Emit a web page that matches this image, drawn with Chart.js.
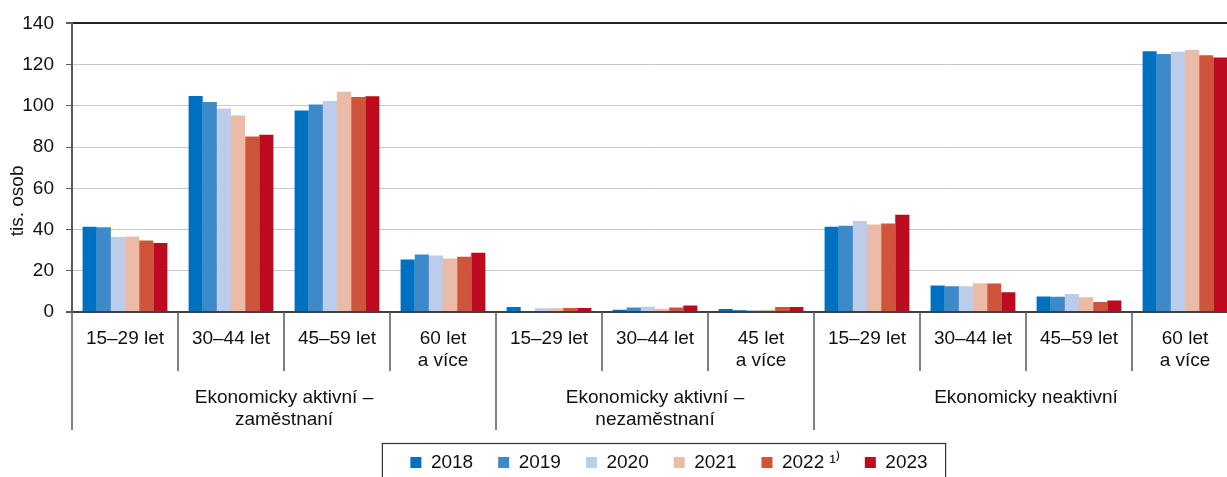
<!DOCTYPE html>
<html lang="cs">
<head>
  <meta charset="UTF-8">
  <title>Obyvatelstvo podle ekonomické aktivity</title>
  <script src="https://cdn.jsdelivr.net/npm/chart.js"></script>
  <style>
    html, body { margin: 0; padding: 0; background: #fff; overflow: hidden; }
    #wrap { width: 1238px; height: 482px; }
  </style>
</head>
<body>

<div id="wrap">
  <canvas id="graf" width="1238" height="482"></canvas>
</div>

<script>
// kategorie (vekove skupiny) a nadrazene skupiny
const kategorie = [
  ['15–29 let'], ['30–44 let'], ['45–59 let'], ['60 let', 'a více'],
  ['15–29 let'], ['30–44 let'], ['45 let', 'a více'],
  ['15–29 let'], ['30–44 let'], ['45–59 let'], ['60 let', 'a více']
];
const skupiny = [
  ['Ekonomicky aktivní –', 'zaměstnaní'],
  ['Ekonomicky aktivní –', 'nezaměstnaní'],
  ['Ekonomicky neaktivní']
];
const velikostSkupin = [4, 3, 4];

const roky = ['2018', '2019', '2020', '2021', '2022 ¹⁾', '2023'];
const barvy = ['#0070C0', '#3D89C9', '#BCCDEB', '#ECBBA8', '#CF553A', '#BE0A1E'];

// tis. osob
const h2018 = [41.4, 104.8,  97.8, 25.5, 2.4, 1.1, 1.4, 41.3, 12.8, 7.5, 126.5];
const h2019 = [41.1, 101.9, 100.6, 27.9, 0.5, 2.2, 1.0, 41.9, 12.5, 7.4, 125.2];
const h2020 = [36.4,  98.7, 102.4, 27.4, 1.8, 2.6, 1.0, 44.1, 12.5, 8.7, 126.2];
const h2021 = [36.6,  95.3, 106.9, 26.0, 1.8, 1.6, 1.1, 42.4, 14.0, 7.2, 127.1];
const h2022 = [34.7,  85.1, 104.3, 26.8, 1.9, 2.2, 2.4, 42.9, 13.8, 4.8, 124.6];
const h2023 = [33.5,  86.0, 104.7, 28.7, 1.9, 3.2, 2.4, 47.2,  9.6, 5.6, 123.4];
const hodnoty = [h2018, h2019, h2020, h2021, h2022, h2023];

const yTicky = [0, 20, 40, 60, 80, 100, 120, 140];
const yNazev = 'tis. osob';

Chart.defaults.font.family = '"Liberation Sans", Arial, sans-serif';
Chart.defaults.font.size = 19;
Chart.defaults.color = '#111';

// oddelovaci cary pod osou x, popisky skupin, nazev osy y, ramecek legendy
const doplnky = {
  id: 'doplnky',
  afterLayout(chart) {
    const l = chart.legend;
    const ca = chart.chartArea;
    const posun = (ca.left + ca.right) / 2 + 14 - (l.left + l.right) / 2;
    l.left += posun;
    l.right += posun;
  },
  afterDraw(chart) {
    const ctx = chart.ctx;
    const x = chart.scales.x;
    const n = kategorie.length;
    const sirka = (x.right - x.left) / n;
    const y0 = x.top;

    ctx.save();
    ctx.strokeStyle = '#595959';
    ctx.lineWidth = 1.5;
    const hranice = [0];
    velikostSkupin.reduce((s, v) => { hranice.push(s + v); return s + v; }, 0);
    for (let i = 0; i <= n; i++) {
      const bx = x.left + i * sirka;
      const delka = hranice.includes(i) ? 118 : 59;
      ctx.beginPath();
      ctx.moveTo(bx, y0);
      ctx.lineTo(bx, y0 + delka);
      ctx.stroke();
    }

    ctx.fillStyle = '#111';
    ctx.font = '19px "Liberation Sans", Arial, sans-serif';
    ctx.textAlign = 'center';
    ctx.textBaseline = 'middle';
    skupiny.forEach((radky, g) => {
      const cx = x.left + (hranice[g] + hranice[g + 1]) / 2 * sirka;
      radky.forEach((t, r) => ctx.fillText(t, cx, y0 + 86 + r * 22));
    });

    // nazev osy y
    const ca = chart.chartArea;
    ctx.save();
    ctx.translate(18, ca.top + (ca.bottom - ca.top) * 0.615);
    ctx.rotate(-Math.PI / 2);
    ctx.fillText(yNazev, 0, 0);
    ctx.restore();

    // ramecek legendy
    const boxy = chart.legend.legendHitBoxes;
    if (boxy && boxy.length) {
      const levo = boxy[0].left - 28;
      const pravo = boxy[boxy.length - 1].left + boxy[boxy.length - 1].width + 18;
      const stred = boxy[0].top + boxy[0].height / 2;
      ctx.strokeStyle = '#333';
      ctx.lineWidth = 1.2;
      ctx.strokeRect(levo, stred - 19, pravo - levo, 60);
    }
    ctx.restore();
  }
};

new Chart(document.getElementById('graf'), {
  type: 'bar',
  data: {
    labels: kategorie,
    datasets: roky.map((r, i) => ({
      label: r,
      data: hodnoty[i],
      backgroundColor: barvy[i],
      borderWidth: 0,
      categoryPercentage: 0.8,
      barPercentage: 1.0
    }))
  },
  options: {
    responsive: false,
    animation: false,
    layout: { padding: { top: 21, left: 0, right: 0, bottom: 0 } },
    plugins: {
      tooltip: { enabled: false },
      legend: {
        position: 'bottom',
        labels: { boxWidth: 11, boxHeight: 11, padding: 25, color: '#111' }
      }
    },
    scales: {
      x: {
        afterFit(s) { s.height = 116; },
        grid: { display: true, drawOnChartArea: false, drawTicks: false },
        border: { color: '#404040', width: 2 },
        ticks: { padding: 15, maxRotation: 0, autoSkip: false, color: '#111' }
      },
      y: {
        min: 0,
        max: 140,
        afterFit(s) { s.width = 72; },
        afterBuildTicks(s) { s.ticks = yTicky.map(v => ({ value: v })); },
        grid: {
          color: c => c.tick && c.tick.value === 140 ? '#222' : (c.tick && c.tick.value === 0 ? '#404040' : '#c8c8c8'),
          lineWidth: c => c.tick && (c.tick.value === 140 || c.tick.value === 0) ? 2 : 1,
          tickLength: 6,
          tickColor: '#595959'
        },
        border: { color: '#595959', width: 2 },
        ticks: { padding: 12, color: '#111' }
      }
    }
  },
  plugins: [doplnky]
});
</script>

</body>
</html>
